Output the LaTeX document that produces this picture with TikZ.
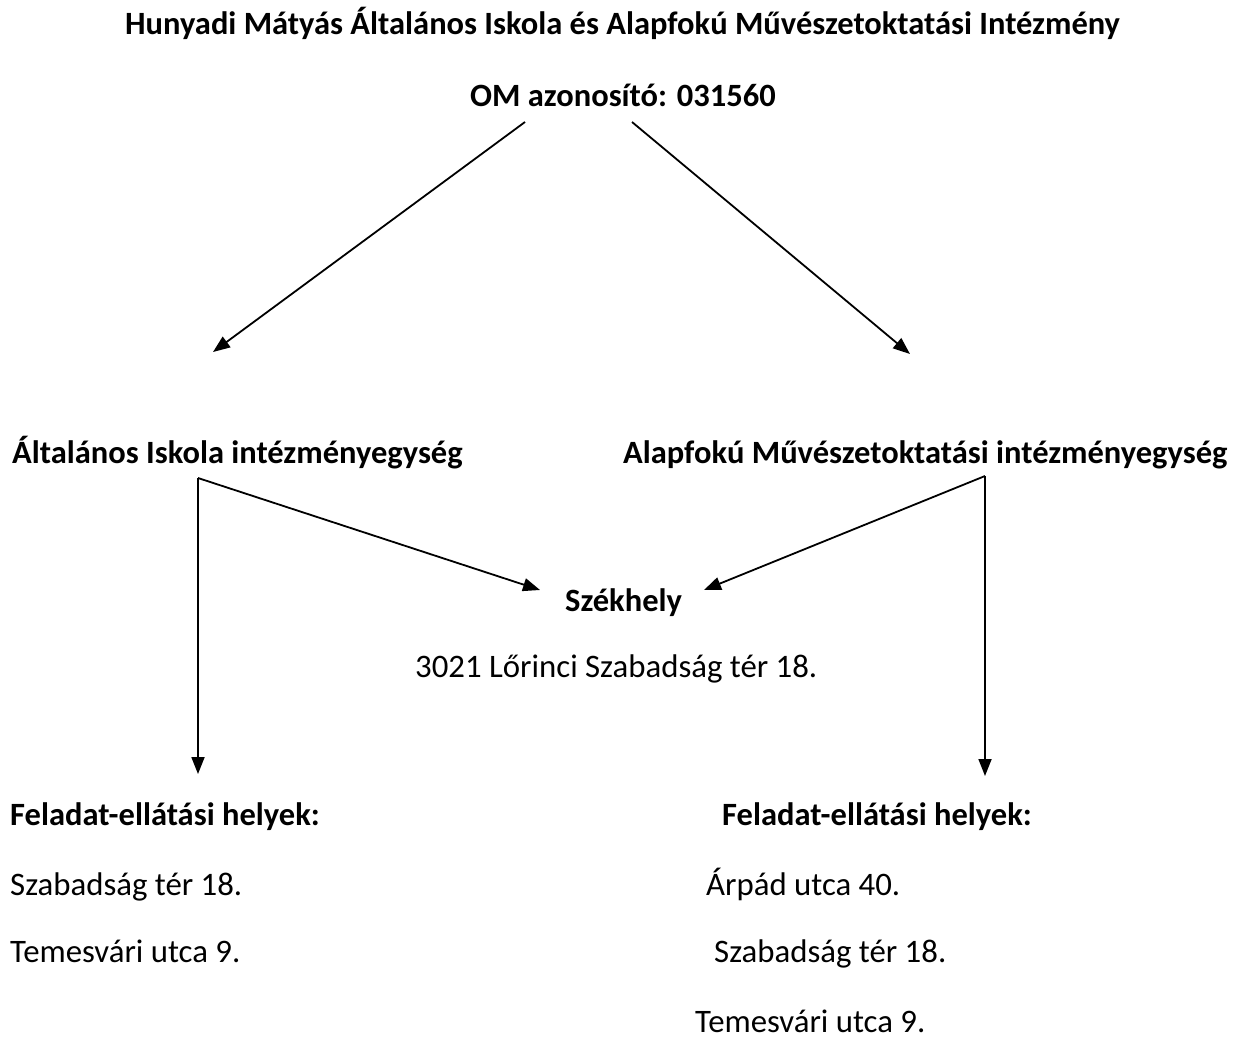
\documentclass[tikz,border=0pt]{standalone}
\usepackage{fontspec}
\setmainfont{Carlito}
\usetikzlibrary{arrows.meta}
\begin{document}
\begin{tikzpicture}[x=1pt,y=-1pt,
  lbl/.style={anchor=base west,inner sep=0pt,font=\fontsize{32.8}{39}\selectfont},
  blbl/.style={lbl,font=\fontsize{32.5}{39}\selectfont\bfseries},
  arr/.style={draw=black,line width=1.8pt,-{Triangle[length=17pt,width=13pt]}}]
\useasboundingbox (0,0) rectangle (1239,1046);
\node[blbl] (title) at (125,35) {Hunyadi Mátyás Általános Iskola és Alapfokú Művészetoktatási Intézmény};
\node[blbl] (om) at (470,107) {OM azonosító: 031560};
\node[blbl] (ai) at (12,463) {Általános Iskola intézményegység};
\node[blbl] (am) at (623,463) {Alapfokú Művészetoktatási intézményegység};
\node[blbl] (szh) at (565,611) {Székhely};
\node[lbl] (addr) at (415,677) {3021 Lőrinci Szabadság tér 18.};
\node[blbl] (fl) at (10,825) {Feladat-ellátási helyek:};
\node[lbl] (l1) at (10,895) {Szabadság tér 18.};
\node[lbl] (l2) at (10,962) {Temesvári utca 9.};
\node[blbl] (fr) at (722,825) {Feladat-ellátási helyek:};
\node[lbl] (r1) at (706,895) {Árpád utca 40.};
\node[lbl] (r2) at (714,962) {Szabadság tér 18.};
\node[lbl] (r3) at (695,1032) {Temesvári utca 9.};
\coordinate (omL) at (525,122);
\coordinate (omR) at (632,122);
\coordinate (aiL) at (213,352);
\coordinate (amR) at (910,354);
\coordinate (aiS) at (198,478);
\coordinate (amS) at (985,476);
\coordinate (szL) at (540,590);
\coordinate (szR) at (704,590);
\coordinate (flT) at (198,774);
\coordinate (frT) at (985,776);
\draw[arr] (omL) -- (aiL);
\draw[arr] (omR) -- (amR);
\draw[arr] (aiS) -- (szL);
\draw[arr] (amS) -- (szR);
\draw[arr] (aiS) -- (flT);
\draw[arr] (amS) -- (frT);
\end{tikzpicture}
\end{document}
